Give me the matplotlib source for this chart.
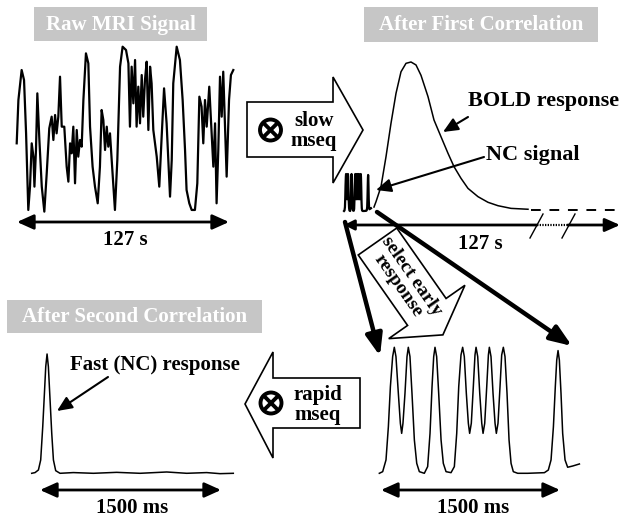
import numpy as np
import matplotlib
matplotlib.use('Agg')
import matplotlib.pyplot as plt
from matplotlib.patches import Rectangle, Polygon, Circle, FancyArrowPatch

plt.rcParams['font.family'] = ['Liberation Serif', 'DejaVu Serif']
plt.rcParams['font.weight'] = 'bold'

W, H = 622, 517

# raw MRI signal over one 127 s run
raw_t = [0.0, 1.0, 2.9, 4.3, 5.5, 6.8, 7.8, 8.8, 9.8, 10.4,
         11.3, 12.1, 13.3, 14.7, 16.2, 17.6, 19.1, 20.5, 21.5, 22.5,
         23.4, 24.4, 25.4, 26.4, 27.9, 29.3, 30.3, 31.3, 32.2, 33.2,
         34.2, 35.2, 36.1, 37.1, 38.1, 39.1, 40.6, 42.0, 43.0, 44.5,
         45.9, 47.5, 48.8, 49.8, 50.8, 51.8, 52.8, 53.7, 54.7, 55.7,
         57.6, 59.0, 60.6, 62.1, 64.1, 65.5, 66.4, 67.4, 68.4, 69.4,
         70.3, 71.3, 72.3, 73.3, 74.2, 75.2, 76.2, 77.2, 78.2, 79.1,
         80.1, 82.1, 83.6, 85.0, 86.4, 87.9, 88.9, 89.9, 90.9, 91.8,
         93.8, 95.7, 97.3, 98.7, 99.6, 101.2, 102.6, 104.5, 105.9, 107.1,
         108.4, 109.4, 110.4, 111.4, 112.9, 114.3, 115.3, 116.3, 117.2, 118.2,
         119.2, 120.2, 121.1, 123.1, 124.5, 125.6, 127.0]
raw_sig = [42, 68, 86, 80, 48, 2, 16, 42, 34, 16,
           38, 72, 44, 16, 1, 24, 51, 58, 44, 59,
           48, 58, 82, 52, 52, 28, 19, 42, 36, 52,
           18, 50, 34, 44, 40, 68, 96, 90, 52, 28,
           16, 6, 28, 62, 56, 38, 52, 40, 48, 32,
           2, 32, 88, 100, 98, 90, 52, 88, 66, 92,
           52, 76, 54, 83, 58, 80, 91, 50, 88, 78,
           50, 34, 16, 46, 75, 54, 32, 10, 32, 78,
           100, 92, 68, 38, 14, 6, 2, 2, 18, 70,
           64, 42, 68, 52, 76, 48, 28, 54, 6, 38,
           82, 58, 85, 22, 68, 83, 86]

# after first correlation: BOLD response (s)
bold_t = [3.0, 3.2, 3.7, 4.2, 4.7, 5.2, 5.7, 6.2, 6.7, 7.2, 7.7, 8.4,
          9.0, 9.7, 10.4, 11.0, 11.7, 12.4, 13.4, 14.4, 15.4, 16.7, 18.4]
bold_amp = [2, 5.6, 15.8, 36, 58.6, 78.8, 93.4, 99.1, 100, 98, 91, 76.6,
            60.8, 49.5, 38.3, 29.3, 21.4, 14.6, 9, 5.2, 2.9, 1.1, 0.5]
tail_t = [18.7, 27.5]
tail_amp = [0, 0]

# early response, 1500 ms window (ms)
early_t = [2.8, 31, 59, 79, 96, 115, 129, 143, 163, 180,
           191, 202, 219, 236, 247, 261, 278, 298, 318, 340,
           382, 410, 430, 447, 461, 472, 486, 503, 523, 542,
           565, 607, 635, 655, 672, 691, 705, 719, 736, 753,
           764, 778, 795, 809, 818, 832, 849, 866, 877, 891,
           908, 922, 930, 944, 961, 978, 989, 1003, 1020, 1034,
           1048, 1062, 1079, 1096, 1113, 1132, 1169, 1253, 1394, 1427,
           1450, 1470, 1486, 1498, 1509, 1520, 1534, 1548, 1568, 1590,
           1633, 1689]
early_amp = [0, 1.3, 10.6, 37, 68.8, 92.6, 100, 92.6, 63.5, 39.7,
             31.7, 39.7, 63.5, 92.6, 100, 92.6, 63.5, 26.5, 7.9, 1.3,
             0, 5.3, 31.7, 68.8, 92.6, 100, 92.6, 63.5, 26.5, 7.9,
             1.3, 0.5, 5.3, 31.7, 68.8, 93.9, 100, 92.6, 63.5, 39.7,
             31.7, 39.7, 68.8, 93.9, 100, 92.6, 63.5, 39.7, 31.7, 39.7,
             68.8, 93.9, 100, 92.6, 63.5, 39.7, 31.7, 39.7, 68.8, 93.9,
             100, 92.6, 63.5, 26.5, 7.9, 1.3, 0, 0, 0.5, 2.6,
             10.6, 37, 68.8, 89.9, 97.4, 89.9, 63.5, 31.7, 10.6, 4.8,
             5.8, 7.4]

# after second correlation: fast (NC) response (ms)
fast_t = [0, 28, 56, 75, 92, 106, 117, 128, 139, 153, 167, 181,
          200, 236, 347, 514, 708, 903, 1125, 1292, 1458, 1569, 1680]
fast_amp = [0, 0.6, 2.8, 11.2, 39.1, 67, 89.4, 100, 89.4, 61.5, 33.5, 11.2,
            2.2, 0, 0.6, 0, 0.8, 0, 1.1, 0, 0.6, -0.3, 0]

fig = plt.figure(figsize=(W / 100, H / 100), dpi=100)
bg = fig.add_axes([0, 0, 1, 1])
bg.set_xlim(0, W)
bg.set_ylim(H, 0)
bg.axis('off')


def panel(x0, y0, x1, y1, xlim, ylim=(0, 100)):
    a = fig.add_axes([x0 / W, 1 - y1 / H, (x1 - x0) / W, (y1 - y0) / H])
    a.set_xlim(*xlim)
    a.set_ylim(*ylim)
    a.axis('off')
    return a


def arrow(p0, p1, lw, style='-|>', hl=9, hw=4):
    bg.add_patch(FancyArrowPatch(p0, p1, arrowstyle=f'{style},head_length={hl},head_width={hw}',
                                 mutation_scale=1, lw=lw, color='k', shrinkA=0, shrinkB=0))


def title_box(x0, y0, x1, y1, s):
    bg.add_patch(Rectangle((x0, y0), x1 - x0, y1 - y0, fc='#c6c6c6', ec='none'))
    bg.text((x0 + x1) / 2, (y0 + y1) / 2 + 1, s, color='white', fontsize=15,
            ha='center', va='center')


def otimes(cx, cy):
    bg.add_patch(Circle((cx, cy), 10.5, fc='white', ec='k', lw=2.8))
    d = 10.5 * 0.72
    bg.plot([cx - d, cx + d], [cy - d, cy + d], 'k', lw=2.8, solid_capstyle='butt')
    bg.plot([cx - d, cx + d], [cy + d, cy - d], 'k', lw=2.8, solid_capstyle='butt')


# panel titles
title_box(34, 7, 207, 41, 'Raw MRI Signal')
title_box(364, 7, 598, 42, 'After First Correlation')
title_box(7, 300, 262, 333, 'After Second Correlation')

# signals
a1 = panel(16.7, 46.7, 233.3, 213.3, (0, 127))
a1.plot(raw_t, raw_sig, color='k', lw=1.6, clip_on=False)

a2 = panel(344, 62, 622, 210, (0, 27.8))
a2.plot(bold_t, bold_amp, color='k', lw=1.1, clip_on=False)
a2.plot(tail_t, tail_amp, color='k', lw=1.4, ls=(0, (5, 4.5)), clip_on=False)

a3 = panel(344, 174, 371, 211, (0, 1689))
a3.plot(early_t, early_amp, color='k', lw=1.6, clip_on=False)

a4 = panel(379, 347.3, 579.4, 473.3, (0, 1689))
a4.plot(early_t, early_amp, color='k', lw=1.1, clip_on=False)

a5 = panel(31.7, 354, 233.3, 473.3, (0, 1680))
a5.plot(fast_t, fast_amp, color='k', lw=1.1, clip_on=False)

# time-span arrows and labels
arrow((17, 222), (229, 222), 2.0, '<|-|>', 10, 4.5)
bg.text(125, 240, '127 s', fontsize=15, ha='center', va='center')
arrow((40, 490), (221, 490), 2.0, '<|-|>', 10, 4.5)
bg.text(132, 508, '1500 ms', fontsize=15, ha='center', va='center')
arrow((381, 490), (560, 490), 2.0, '<|-|>', 10, 4.5)
bg.text(473, 508, '1500 ms', fontsize=15, ha='center', va='center')

# broken time axis of the first correlation
arrow((537, 225), (344, 225), 2.0, '-|>', 6, 3)
bg.plot([537, 568], [225, 225], color='k', lw=1.6, ls=(0, (0.6, 0.6)))
arrow((568, 225), (620, 225), 2.0, '-|>', 9, 4)
bg.plot([530, 543], [238, 214], color='k', lw=1.0)
bg.plot([562, 575], [238, 214], color='k', lw=1.0)
bg.text(480, 244, '127 s', fontsize=15, ha='center', va='center')

# annotations
bg.text(468, 101, 'BOLD response', fontsize=16, ha='left', va='center')
arrow((468, 117), (443, 132), 1.5, '-|>', 9, 4)
bg.text(486, 155, 'NC signal', fontsize=16, ha='left', va='center')
arrow((484, 157), (376, 190), 1.5, '-|>', 9, 4)
bg.text(70, 365, 'Fast (NC) response', fontsize=15, ha='left', va='center')
arrow((108, 377), (57, 411), 1.5, '-|>', 9, 4)

# thick zoom arrows to the early response
arrow((345, 222), (380, 356), 3.2, '-|>', 13, 5)
arrow((377, 212), (572, 346), 3.2, '-|>', 13, 5)

# block arrows
slow = [(247, 102), (333, 102), (333, 77), (363, 130), (333, 183), (333, 157), (247, 157)]
bg.add_patch(Polygon(slow, closed=True, fc='white', ec='k', lw=1.2))
otimes(270.5, 130)
bg.text(314, 131, 'slow\nmseq', fontsize=15, ha='center', va='center', linespacing=0.95)

rapid = [(360, 378), (273, 378), (273, 352), (245, 404), (273, 458), (273, 428), (360, 428)]
bg.add_patch(Polygon(rapid, closed=True, fc='white', ec='k', lw=1.2))
otimes(271, 403)
bg.text(318, 405, 'rapid\nmseq', fontsize=15, ha='center', va='center', linespacing=0.95)

th = np.deg2rad(55)
u = np.array([np.cos(th), np.sin(th)])
n = np.array([np.sin(th), -np.cos(th)])
B = np.array([377.5, 241.5])
Ls, Lh, ws, wh = 86, 28, 23.5, 46.5
sel = [B + ws * n, B + ws * n + Ls * u, B + wh * n + Ls * u, B + (Ls + Lh) * u,
       B - wh * n + Ls * u, B - ws * n + Ls * u, B - ws * n]
bg.add_patch(Polygon(sel, closed=True, fc='white', ec='k', lw=1.2))
c = B + 48 * u
bg.text(c[0], c[1], 'select early\nresponse', fontsize=14, ha='center', va='center',
        rotation=-55, rotation_mode='anchor', linespacing=1.0)

fig.savefig('out.png', dpi=100)
